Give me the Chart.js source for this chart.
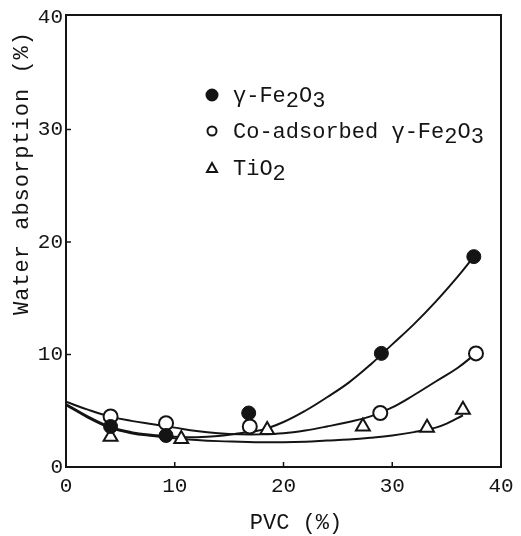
<!DOCTYPE html>
<html>
<head>
<meta charset="utf-8">
<script src="https://cdn.jsdelivr.net/npm/chart.js@4"></script>
<style>
html,body{margin:0;padding:0;background:#fff;}
#wrap{width:521px;height:536px;position:relative;}
</style>
</head>
<body>
<div id="wrap"><canvas id="c" width="521" height="536"></canvas></div>
<script>
// ---- data ----
const seriesNames = ["γ-Fe₂O₃", "Co-adsorbed γ-Fe₂O₃", "TiO₂"];
const xTicks = [0, 10, 20, 30, 40];
const yTicks = [0, 10, 20, 30, 40];
const xTitle = "PVC (%)";
const yTitle = "Water absorption (%)";

// measured points
const feX = [4.1, 9.2, 16.8, 29.0, 37.5];
const feY = [3.6, 2.8, 4.8, 10.1, 18.7];
const coX = [4.1, 9.2, 16.9, 28.9, 37.7];
const coY = [4.5, 3.9, 3.6, 4.8, 10.1];
const tiX = [4.1, 10.6, 18.5, 27.3, 33.2, 36.5];
const tiY = [2.7, 2.5, 3.3, 3.6, 3.5, 5.1];

// fitted curves
const feCurveX = [0, 2, 4, 6, 8, 10, 12, 14, 16, 18, 20, 22, 24, 26, 28, 30, 32, 34, 36, 37.5];
const feCurveY = [5.6, 4.5, 3.6, 3.1, 2.85, 2.7, 2.65, 2.75, 3.0, 3.3, 4.0, 5.0, 6.2, 7.5, 9.1, 10.9, 12.7, 14.7, 16.9, 18.7];
const coCurveX = [0, 2, 4, 6, 8, 10, 12, 14, 16, 18, 20, 22, 24, 26, 28, 30, 32, 34, 36, 37.7];
const coCurveY = [5.8, 5.1, 4.5, 4.1, 3.8, 3.5, 3.2, 3.0, 2.9, 2.9, 3.0, 3.25, 3.6, 4.0, 4.5, 5.3, 6.4, 7.6, 8.8, 10.1];
const tiCurveX = [0, 2, 4, 6, 8, 10, 12, 14, 16, 18, 20, 22, 24, 26, 28, 30, 32, 34, 35, 36.5];
const tiCurveY = [5.5, 4.4, 3.5, 3.0, 2.75, 2.55, 2.4, 2.3, 2.25, 2.2, 2.2, 2.25, 2.35, 2.45, 2.6, 2.8, 3.1, 3.5, 3.85, 4.6];

const pts = (xs, ys) => xs.map((x, i) => ({x: x, y: ys[i]}));

const INK = '#141414';
const FONT = "'Liberation Mono', 'DejaVu Sans Mono', monospace";

const markerStyles = [
  {pointStyle: 'circle', backgroundColor: INK, borderColor: INK, borderWidth: 1},
  {pointStyle: 'circle', backgroundColor: '#fff', borderColor: INK, borderWidth: 2},
  {pointStyle: 'triangle', backgroundColor: '#fff', borderColor: INK, borderWidth: 2}
];

function curveDs(xs, ys) {
  return {type: 'line', data: pts(xs, ys), showLine: true, pointRadius: 0,
    borderColor: INK, borderWidth: 2, fill: false, tension: 0.4, order: 2};
}
function pointDs(name, xs, ys, st, r) {
  return Object.assign({label: name, type: 'scatter', data: pts(xs, ys), showLine: false,
    pointRadius: r, pointHoverRadius: r, order: 0}, {
    pointStyle: st.pointStyle, backgroundColor: st.backgroundColor,
    borderColor: st.borderColor, pointBorderWidth: st.borderWidth, borderWidth: st.borderWidth});
}

// draw text with unicode subscripts lowered
const subMap = {'₀':'0','₁':'1','₂':'2','₃':'3','₄':'4','₅':'5','₆':'6','₇':'7','₈':'8','₉':'9'};
function drawRich(ctx, text, x, y) {
  let cx = x;
  for (const ch of text) {
    const isSub = subMap[ch] !== undefined;
    const c = isSub ? subMap[ch] : ch;
    ctx.fillText(c, cx, isSub ? y + 5 : y);
    cx += ctx.measureText(c).width;
  }
}

const decor = {
  id: 'decor',
  afterDatasetsDraw(chart) {
    const ctx = chart.ctx;
    const a = chart.chartArea;
    const xs = chart.scales.x, ys = chart.scales.y;
    ctx.save();
    // frame
    ctx.strokeStyle = INK; ctx.lineWidth = 2;
    ctx.strokeRect(a.left, a.top - 2, a.right - a.left, a.bottom - a.top + 2);
    // inward ticks
    ctx.lineWidth = 1.5;
    ctx.beginPath();
    xTicks.slice(1, -1).forEach(v => { const px = xs.getPixelForValue(v); ctx.moveTo(px, a.bottom); ctx.lineTo(px, a.bottom - 5); });
    yTicks.slice(1, -1).forEach(v => { const py = ys.getPixelForValue(v); ctx.moveTo(a.left, py); ctx.lineTo(a.left + 5, py); });
    ctx.stroke();
    // axis titles
    ctx.fillStyle = INK;
    ctx.font = "22px " + FONT;
    ctx.textAlign = 'center'; ctx.textBaseline = 'middle';
    ctx.fillText(xTitle, 296, 523);
    ctx.save();
    ctx.translate(22, 173); ctx.rotate(-Math.PI / 2);
    ctx.letterSpacing = '1px';
    ctx.fillText(yTitle, 0, 0);
    ctx.restore();
    // legend
    const rows = [96, 132, 169];
    ctx.textAlign = 'left'; ctx.textBaseline = 'middle';
    ctx.font = "22px " + FONT;
    seriesNames.forEach((name, i) => {
      const st = markerStyles[i];
      const mx = 212, my = rows[i] - 1;
      ctx.fillStyle = st.backgroundColor; ctx.strokeStyle = st.borderColor; ctx.lineWidth = 2;
      ctx.beginPath();
      if (st.pointStyle === 'circle') {
        ctx.arc(mx, my, i === 0 ? 5.5 : 4.5, 0, Math.PI * 2);
      } else {
        ctx.moveTo(mx, my - 5); ctx.lineTo(mx + 5, my + 4); ctx.lineTo(mx - 5, my + 4); ctx.closePath();
      }
      ctx.fill(); ctx.stroke();
      ctx.fillStyle = INK;
      drawRich(ctx, name, 233, rows[i]);
    });
    ctx.restore();
  }
};

new Chart(document.getElementById('c'), {
  type: 'scatter',
  data: {
    datasets: [
      pointDs(seriesNames[0], feX, feY, markerStyles[0], 7),
      pointDs(seriesNames[1], coX, coY, markerStyles[1], 7),
      pointDs(seriesNames[2], tiX, tiY, markerStyles[2], 8),
      curveDs(feCurveX, feCurveY),
      curveDs(coCurveX, coCurveY),
      curveDs(tiCurveX, tiCurveY)
    ]
  },
  options: {
    responsive: false,
    animation: false,
    devicePixelRatio: 1,
    layout: {padding: {top: 17, right: 20, left: 0, bottom: 0}},
    plugins: {legend: {display: false}, tooltip: {enabled: false}},
    scales: {
      x: {
        type: 'linear', min: 0, max: 40,
        afterBuildTicks: s => { s.ticks = xTicks.map(v => ({value: v})); },
        afterFit: s => { s.height = 69; },
        grid: {display: false, drawTicks: false},
        border: {display: false},
        ticks: {color: INK, font: {family: FONT, size: 21}, padding: 7, maxRotation: 0}
      },
      y: {
        type: 'linear', min: 0, max: 40,
        afterBuildTicks: s => { s.ticks = yTicks.map(v => ({value: v})); },
        afterFit: s => { s.width = 66; },
        grid: {display: false, drawTicks: false},
        border: {display: false},
        ticks: {color: INK, font: {family: FONT, size: 21}, padding: 3}
      }
    }
  },
  plugins: [decor]
});
</script>
</body>
</html>
